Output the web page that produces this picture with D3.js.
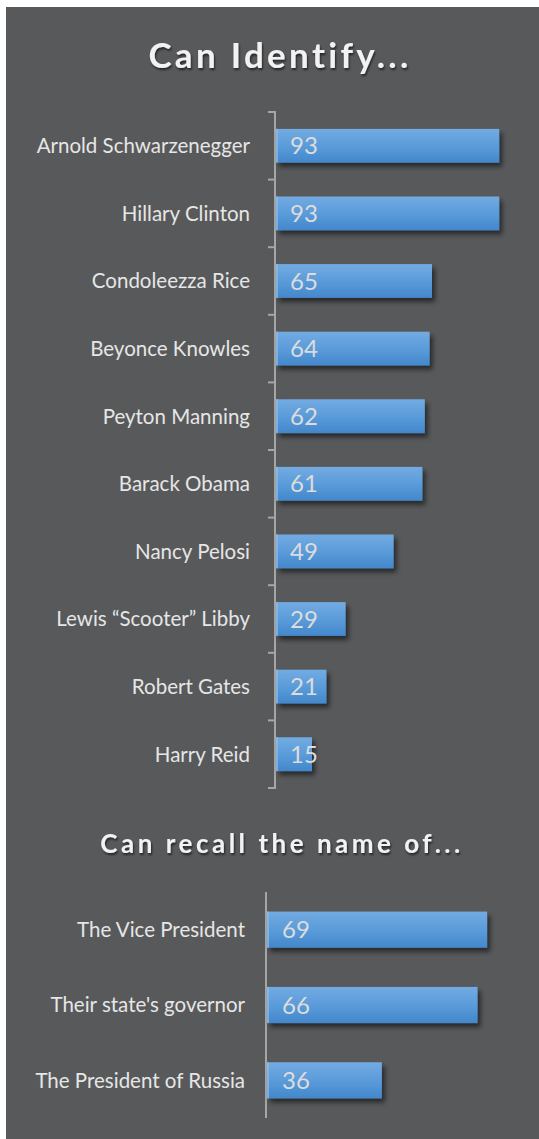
<!DOCTYPE html>
<html>
<head>
<meta charset="utf-8">
<script src="https://cdn.jsdelivr.net/npm/d3@7"></script>
<style>
  html, body { margin: 0; padding: 0; background: #fff; }
  svg text { font-family: Lato, "Open Sans", sans-serif; }
</style>
</head>
<body>
<div id="chart"></div>
<script>
//Datos
const identifyNames = ['Arnold Schwarzenegger', 'Hillary Clinton', 'Condoleezza Rice', 'Beyonce Knowles',
    'Peyton Manning', 'Barack Obama', 'Nancy Pelosi', 'Lewis \u201cScooter\u201d Libby', 'Robert Gates', 'Harry Reid'];
const identifyValues = [93, 93, 65, 64, 62, 61, 49, 29, 21, 15];
const recallNames = ['The Vice President', "Their state's governor", 'The President of Russia'];
const recallValues = [69, 66, 36];

const W = 539, H = 1139;

let svg = d3.select('#chart')
    .append('svg')
    .attr('width', W)
    .attr('height', H);

//Filtros y degradado
let defs = svg.append('defs');
let grad = defs.append('linearGradient')
    .attr('id', 'barGrad')
    .attr('x1', 0).attr('y1', 0).attr('x2', 0).attr('y2', 1);
grad.append('stop').attr('offset', '0%').attr('stop-color', '#73abe2');
grad.append('stop').attr('offset', '55%').attr('stop-color', '#589ad9');
grad.append('stop').attr('offset', '100%').attr('stop-color', '#4387cb');

defs.append('filter').attr('id', 'shadow')
    .attr('x', '-10%').attr('y', '-20%').attr('width', '130%').attr('height', '160%')
    .append('feDropShadow')
    .attr('dx', 3).attr('dy', 4).attr('stdDeviation', 2.5)
    .attr('flood-color', '#000').attr('flood-opacity', 0.55);

defs.append('filter').attr('id', 'tshadow')
    .append('feDropShadow')
    .attr('dx', 1).attr('dy', 2).attr('stdDeviation', 1.2)
    .attr('flood-color', '#000').attr('flood-opacity', 0.6);

//Fondo
svg.append('rect')
    .attr('x', 6).attr('y', 7)
    .attr('width', W - 6).attr('height', H - 7)
    .attr('fill', '#58595b');

//Titulos
svg.append('text')
    .attr('x', 280).attr('y', 68)
    .attr('text-anchor', 'middle')
    .attr('fill', '#f2f2f2')
    .attr('font-size', 35)
    .attr('font-weight', 700)
    .attr('letter-spacing', 3.3)
    .attr('filter', 'url(#tshadow)')
    .text('Can Identify...');

svg.append('text')
    .attr('x', 282).attr('y', 853)
    .attr('text-anchor', 'middle')
    .attr('fill', '#f2f2f2')
    .attr('font-size', 26)
    .attr('font-weight', 700)
    .attr('letter-spacing', 3.5)
    .attr('filter', 'url(#tshadow)')
    .text('Can recall the name of...');

function drawSection(names, values, opts) {
    let g = svg.append('g');

    let x = d3.scaleLinear()
        .domain([0, 100])
        .range([opts.x0, opts.x0 + opts.perHundred]);

    let y = d3.scaleBand()
        .domain(names)
        .range([opts.top, opts.bottom])
        .paddingInner(opts.pad)
        .paddingOuter(opts.pad / 2);

    //Eje vertical
    g.append('line')
        .attr('x1', opts.x0 - 1).attr('x2', opts.x0 - 1)
        .attr('y1', opts.top).attr('y2', opts.bottom)
        .attr('stroke', '#a6a6a6')
        .attr('stroke-width', 2);

    if (opts.ticks) {
        let bounds = d3.range(names.length + 1).map(function(k) { return opts.top + k * y.step(); });
        g.selectAll('.tick')
            .data(bounds)
            .enter()
            .append('line')
            .attr('x1', opts.x0 - 8).attr('x2', opts.x0)
            .attr('y1', function(d) { return d; })
            .attr('y2', function(d) { return d; })
            .attr('stroke', '#a6a6a6')
            .attr('stroke-width', 2);
    }

    let data = names.map(function(n, i) { return {name: n, value: values[i]}; });

    g.selectAll('.bar')
        .data(data)
        .enter()
        .append('rect')
        .attr('class', 'bar')
        .attr('x', x(0))
        .attr('y', function(d) { return y(d.name); })
        .attr('width', function(d) { return x(d.value) - x(0); })
        .attr('height', y.bandwidth())
        .attr('fill', 'url(#barGrad)')
        .attr('filter', 'url(#shadow)');

    //Linea clara a la izquierda de la barra
    g.selectAll('.edge')
        .data(data)
        .enter()
        .append('rect')
        .attr('x', x(0))
        .attr('y', function(d) { return y(d.name); })
        .attr('width', 2)
        .attr('height', y.bandwidth())
        .attr('fill', '#8fbde8')
        .attr('opacity', 0.7);

    g.selectAll('.val')
        .data(data)
        .enter()
        .append('text')
        .attr('x', x(0) + opts.valOffset)
        .attr('y', function(d) { return y(d.name) + y.bandwidth() / 2; })
        .attr('dy', '0.36em')
        .attr('fill', '#dcdcdc')
        .attr('font-size', opts.valSize)
        .text(function(d) { return d.value; });

    g.selectAll('.lab')
        .data(data)
        .enter()
        .append('text')
        .attr('x', opts.labelX)
        .attr('y', function(d) { return y(d.name) + y.bandwidth() / 2; })
        .attr('dy', '0.36em')
        .attr('text-anchor', 'end')
        .attr('fill', '#e6e6e6')
        .attr('font-size', opts.labelSize)
        .text(function(d) { return d.name; });
}

drawSection(identifyNames, identifyValues, {
    x0: 276, perHundred: 240, top: 112, bottom: 788, pad: 0.5,
    ticks: true, valOffset: 14, valSize: 24, labelX: 250, labelSize: 20.5
});

drawSection(recallNames, recallValues, {
    x0: 267, perHundred: 319, top: 892, bottom: 1118, pad: 0.52,
    ticks: false, valOffset: 15, valSize: 24, labelX: 245, labelSize: 20.5
});
</script>
</body>
</html>
